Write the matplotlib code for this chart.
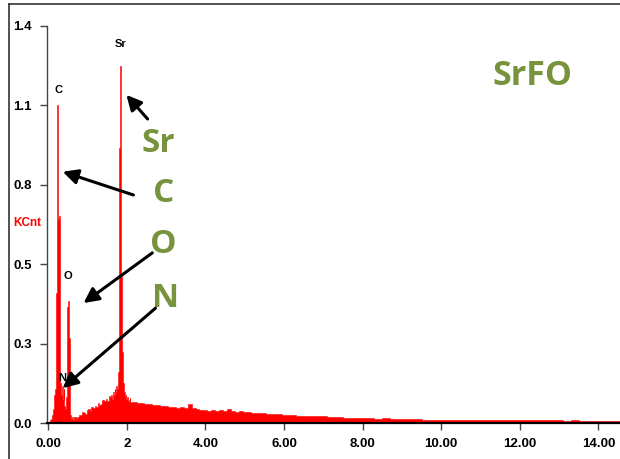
import numpy as np
import matplotlib.pyplot as plt
from matplotlib.lines import Line2D

# EDS spectrum, energy in keV, counts in KCnt
peak_low_e = [0.00, 0.02, 0.04, 0.06, 0.08, 0.10, 0.12, 0.14, 0.16, 0.18,
              0.20, 0.22, 0.24, 0.26, 0.28, 0.30, 0.32, 0.34, 0.36, 0.38,
              0.40, 0.42, 0.44, 0.46, 0.48, 0.50, 0.52, 0.54, 0.56, 0.58,
              0.60, 0.62, 0.64, 0.66, 0.68, 0.70]
peak_low_c = [0.000, 0.002, 0.005, 0.010, 0.015, 0.020, 0.030, 0.050, 0.100, 0.120,
              0.400, 0.460, 1.120, 0.720, 0.730, 0.300, 0.140, 0.100, 0.130, 0.080,
              0.120, 0.060, 0.050, 0.090, 0.200, 0.410, 0.430, 0.300, 0.030, 0.020,
              0.015, 0.020, 0.010, 0.020, 0.015, 0.020]

bg1_e = [0.72, 0.76, 0.80, 0.84, 0.88, 0.92, 0.96, 1.00, 1.04, 1.08, 1.12,
         1.16, 1.20, 1.24, 1.28, 1.32, 1.36, 1.40, 1.44, 1.48, 1.52, 1.56]
bg1_c = [0.015, 0.020, 0.030, 0.028, 0.040, 0.036, 0.033, 0.045, 0.050, 0.044, 0.055,
         0.052, 0.060, 0.057, 0.070, 0.063, 0.066, 0.080, 0.076, 0.085, 0.078, 0.095]

peak_sr_e = [1.60, 1.62, 1.64, 1.66, 1.68, 1.70, 1.72, 1.74, 1.76, 1.78, 1.80,
             1.82, 1.84, 1.86, 1.88, 1.90, 1.92, 1.94, 1.96, 1.98, 2.00, 2.02,
             2.04, 2.06, 2.08, 2.10]
peak_sr_c = [0.090, 0.100, 0.085, 0.110, 0.100, 0.120, 0.110, 0.130, 0.120, 0.180, 0.350,
             0.970, 1.260, 0.520, 0.500, 0.250, 0.140, 0.110, 0.095, 0.100, 0.085, 0.090,
             0.078, 0.082, 0.088, 0.075]

bg2_e = [2.2, 2.3, 2.4, 2.5, 2.6, 2.7, 2.8, 2.9, 3.0, 3.1, 3.2, 3.3, 3.4,
         3.5, 3.6, 3.7, 3.8, 3.9, 4.0, 4.1, 4.2, 4.3, 4.4, 4.5, 4.6, 4.7,
         4.8, 4.9, 5.0, 5.1, 5.2, 5.3, 5.4, 5.5, 5.6, 5.7, 5.8, 5.9, 6.0]
bg2_c = [0.075, 0.071, 0.072, 0.066, 0.068, 0.063, 0.064, 0.059, 0.060, 0.056, 0.057, 0.054, 0.055,
         0.052, 0.068, 0.053, 0.049, 0.046, 0.047, 0.044, 0.045, 0.042, 0.047, 0.044, 0.050, 0.042,
         0.040, 0.041, 0.038, 0.039, 0.036, 0.037, 0.034, 0.035, 0.032, 0.033, 0.031, 0.031, 0.029]

bg3_e = [6.2, 6.4, 6.6, 6.8, 7.0, 7.2, 7.4, 7.6, 7.8, 8.0, 8.2, 8.4, 8.6, 8.8,
         9.0, 9.2, 9.4, 9.6, 9.8, 10.0, 10.2, 10.4, 10.6, 10.8, 11.0, 11.2, 11.4,
         11.6, 11.8, 12.0, 12.2, 12.4, 12.6, 12.8, 13.0, 13.2, 13.4, 13.6, 13.8,
         14.0, 14.2, 14.4, 14.6]
bg3_c = [0.028, 0.026, 0.026, 0.023, 0.024, 0.021, 0.021, 0.019, 0.019, 0.017, 0.017, 0.015, 0.016, 0.014,
         0.014, 0.013, 0.014, 0.012, 0.012, 0.012, 0.011, 0.012, 0.011, 0.011, 0.011, 0.010, 0.011,
         0.010, 0.010, 0.010, 0.009, 0.010, 0.009, 0.009, 0.009, 0.008, 0.009, 0.008, 0.008,
         0.008, 0.007, 0.007, 0.007]

energy = np.array(peak_low_e + bg1_e + peak_sr_e + bg2_e + bg3_e)
counts = np.array(peak_low_c + bg1_c + peak_sr_c + bg2_c + bg3_c)

yticks = [0.0, 0.28, 0.56, 0.84, 1.12, 1.4]
ytick_labels = ['0.0', '0.3', '0.5', '0.8', '1.1', '1.4']
xticks = [0, 2, 4, 6, 8, 10, 12, 14]
xtick_labels = ['0.00', '2', '4.00', '6.00', '8.00', '10.00', '12.00', '14.00']

green = '#77933C'
plt.rcParams['font.family'] = ['Liberation Sans', 'DejaVu Sans']

fig = plt.figure(figsize=(6.2, 4.59), dpi=100)
ax = fig.add_axes([0.0758, 0.0784, 0.9242, 0.865])

ax.fill_between(energy, counts, step='mid', color='red', linewidth=0.4, edgecolor='red')

ax.set_xlim(-0.03, 14.55)
ax.set_ylim(0, 1.4)
ax.set_xticks(xticks)
ax.set_xticklabels(xtick_labels, fontsize=9.5, fontweight='bold')
ax.set_yticks(yticks)
ax.set_yticklabels(ytick_labels, fontsize=9.5, fontweight='bold')
ax.tick_params(axis='x', length=5, width=1, color='#444444', pad=6)
ax.tick_params(axis='y', length=5, width=1, color='#444444', pad=6)
for s in ['top', 'right']:
    ax.spines[s].set_visible(False)
ax.spines['bottom'].set_linewidth(1.6)
ax.spines['left'].set_linewidth(1.0)
ax.spines['left'].set_color('#444444')

# small peak labels
for txt, x, y in [('Sr', 1.84, 1.335), ('C', 0.26, 1.175), ('O', 0.49, 0.52), ('N', 0.37, 0.16)]:
    ax.text(x, y, txt, ha='center', va='center', fontsize=8, fontweight='bold')

# big green labels
for txt, x, y in [('Sr', 2.81, 0.985), ('C', 2.93, 0.81), ('O', 2.93, 0.63), ('N', 2.98, 0.44)]:
    ax.text(x, y, txt, ha='center', va='center', fontsize=24, fontweight='bold',
            color=green, family=['Open Sans', 'DejaVu Sans'])
ax.text(12.31, 1.225, 'SrFO', ha='center', va='center', fontsize=24.5, fontweight='bold',
        color=green, family=['Open Sans', 'DejaVu Sans'])

arrows = [((2.53, 1.072), (1.99, 1.157)),
          ((2.17, 0.804), (0.37, 0.886)),
          ((2.65, 0.600), (0.90, 0.423)),
          ((2.73, 0.405), (0.37, 0.123))]
for tail, tip in arrows:
    ax.annotate('', xy=tip, xytext=tail,
                arrowprops=dict(arrowstyle='-|>,head_length=0.9,head_width=0.45',
                                color='black', lw=2.2, shrinkA=0, shrinkB=0))

fig.text(27 / 620, 1 - 223 / 459, 'KCnt', color='red', fontsize=8.5, fontweight='bold',
         ha='center', va='center')

# frame around the picture
fig.add_artist(Line2D([9 / 620, 9 / 620], [0, 1 - 4 / 459], color='#333333', lw=1.2))
fig.add_artist(Line2D([9 / 620, 1], [1 - 4 / 459, 1 - 4 / 459], color='#333333', lw=1.2))

fig.savefig('out.png', dpi=100)
